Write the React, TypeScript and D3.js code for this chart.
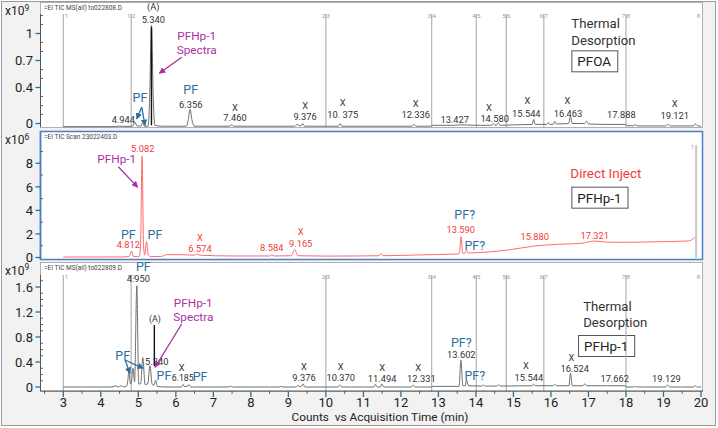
import React, { useEffect, useRef } from 'react';
import * as d3 from 'd3';

type Pt = [number, number];
type Lab = [string, string, number, number];

// retention time ticks (min)
const xTicks = [3, 4, 5, 6, 7, 8, 9, 10, 11, 12, 13, 14, 15, 16, 17, 18, 19, 20];
const xMinor = [2.5, 3.5, 4.5, 5.5, 6.5, 7.5, 8.5, 9.5, 10.5, 11.5, 12.5, 13.5, 14.5, 15.5, 16.5, 17.5, 18.5, 19.5];

const topTicks = [0, 0.4, 0.7, 1];
const topMinor = [0.1, 0.2, 0.3, 0.5, 0.6, 0.8, 0.9, 1.1, 1.2];
const midTicks = [0, 2, 4, 6, 8];
const midMinor = [1, 3, 5, 7, 9];
const botTicks = [0, 0.4, 0.8, 1.2, 1.6];
const botMinor = [0.1, 0.2, 0.3, 0.5, 0.6, 0.7, 0.9, 1.0, 1.1, 1.3, 1.4, 1.5, 1.7];

const segTimes = [3.0, 4.81, 10.0, 12.82, 14.01, 14.81, 15.81, 18.0, 19.93];
const segLabels = ['1', '1|2', '2|3', '3|4', '4|5', '5|6', '6|7', '7|8', '8'];
const midSegTimes = [19.87];
const midSegLabels = ['1'];

// TD of PFOA, x10^9
const pfoaTrace: Pt[] = [
  [3.0, -0.035], [4.3, -0.035], [4.5, -0.03], [4.7, -0.033], [4.85, -0.03], [4.91, 0.015], [4.96, -0.025],
  [5.06, -0.03], [5.11, 0.005], [5.16, -0.03], [5.26, -0.03], [5.3, 0.25], [5.35, 1.09], [5.4, 0.25],
  [5.44, -0.02], [5.6, -0.03], [6.28, -0.03], [6.33, 0.04], [6.38, 0.158], [6.43, 0.04], [6.49, -0.03],
  [7.42, -0.03], [7.48, -0.015], [7.54, -0.03], [9.17, -0.03], [9.23, -0.01], [9.29, -0.025], [9.34, -0.025],
  [9.38, 0.0], [9.43, -0.03], [10.33, -0.03], [10.38, 0.0], [10.43, -0.03], [12.29, -0.03], [12.35, -0.01],
  [12.41, -0.03], [12.8, -0.03], [12.85, -0.02], [13.4, -0.02], [13.6, -0.015], [14.0, -0.02], [14.41, -0.02],
  [14.46, 0.0], [14.51, -0.02], [14.55, -0.02], [14.6, 0.005], [14.65, -0.02], [15.0, -0.015], [15.5, -0.01],
  [15.54, 0.045], [15.58, -0.01], [15.89, -0.01], [15.93, 0.01], [15.97, -0.01], [16.06, -0.01], [16.1, 0.025],
  [16.14, -0.005], [16.47, 0.0], [16.52, 0.075], [16.57, 0.0], [16.9, 0.0], [16.95, 0.025], [17.0, -0.005],
  [17.5, -0.01], [17.98, -0.01], [18.03, -0.025], [18.2, -0.025], [18.25, -0.012], [18.3, -0.027],
  [19.06, -0.027], [19.13, -0.01], [19.19, -0.027], [19.79, -0.027], [19.85, -0.005], [19.92, -0.027], [20.0, -0.03],
];

// direct injection of PFHp-1, x10^6
const directTrace: Pt[] = [
  [3.0, 0.04], [4.6, 0.05], [4.75, 0.08], [4.82, 0.55], [4.87, 0.08], [5.02, 0.06], [5.06, 1.0], [5.1, 8.6],
  [5.14, 1.0], [5.17, 0.2], [5.22, 1.35], [5.26, 0.3], [5.32, 0.08], [5.6, 0.08], [5.75, 0.24], [6.1, 0.24],
  [6.5, 0.2], [6.56, 0.32], [6.62, 0.2], [7.5, 0.13], [8.5, 0.13], [8.56, 0.22], [8.62, 0.13], [9.08, 0.15],
  [9.17, 0.68], [9.25, 0.15], [10.0, 0.12], [10.86, 0.13], [11.42, 0.15], [11.47, 0.35], [11.52, 0.15],
  [12.5, 0.22], [13.5, 0.3], [13.56, 0.35], [13.6, 1.77], [13.65, 0.36], [13.71, 0.36], [13.75, 0.58],
  [13.8, 0.38], [14.0, 0.4], [14.86, 0.64], [15.57, 0.98], [16.19, 1.12], [16.8, 1.2], [17.17, 1.4],
  [17.5, 1.3], [17.97, 1.29], [18.86, 1.34], [19.66, 1.4], [19.84, 1.71],
];

// TD of PFHp-1, x10^9
const pfhpTrace: Pt[] = [
  [3.0, 0.0], [4.3, 0.0], [4.4, 0.02], [4.45, 0.0], [4.55, 0.02], [4.6, 0.0], [4.68, 0.01], [4.72, 0.1],
  [4.75, 0.27], [4.79, 0.05], [4.82, 0.1], [4.86, 0.3], [4.9, 0.08], [4.96, 1.62], [5.01, 0.05], [5.06, 0.05],
  [5.12, 0.47], [5.18, 0.04], [5.25, 0.05], [5.31, 0.34], [5.37, 0.04], [5.42, 0.03], [5.46, 0.11],
  [5.51, 0.01], [5.7, 0.0], [6.15, 0.0], [6.19, 0.04], [6.23, 0.01], [6.3, 0.01], [6.35, 0.04], [6.4, 0.0],
  [7.4, 0.0], [7.45, 0.015], [7.5, 0.0], [8.75, 0.0], [8.8, 0.01], [8.85, 0.0], [9.2, 0.0], [9.25, 0.025],
  [9.3, 0.01], [9.35, 0.01], [9.39, 0.05], [9.44, 0.0], [10.32, 0.0], [10.37, 0.03], [10.42, 0.0],
  [11.28, 0.0], [11.32, 0.045], [11.37, 0.0], [11.45, 0.0], [11.49, 0.05], [11.54, 0.0], [12.28, 0.0],
  [12.33, 0.03], [12.38, 0.0], [12.8, 0.0], [12.85, 0.01], [13.55, 0.01], [13.6, 0.43], [13.65, 0.02],
  [13.71, 0.02], [13.75, 0.11], [13.8, 0.02], [14.15, 0.015], [14.2, 0.03], [14.25, 0.015], [14.55, 0.015],
  [14.6, 0.035], [14.65, 0.015], [15.5, 0.02], [15.54, 0.045], [15.58, 0.02], [16.05, 0.02], [16.1, 0.045],
  [16.15, 0.02], [16.48, 0.02], [16.52, 0.22], [16.57, 0.02], [16.85, 0.02], [16.9, 0.05], [16.95, 0.02],
  [17.5, 0.02], [17.98, 0.02], [18.02, 0.0], [18.2, 0.0], [18.25, 0.01], [18.3, 0.0], [19.05, 0.0],
  [19.11, 0.03], [19.17, 0.0], [19.8, 0.0], [19.85, 0.02], [19.9, 0.0], [20.0, 0.0],
];

// annotations: kind, text, time, value
const pfoaLabels: Lab[] = [
  ['num', '(A)', 5.4, 1.294], ['num', '5.340', 5.4, 1.156],
  ['mag', 'PFHp-1', 6.556, 0.976], ['mag', 'Spectra', 6.556, 0.817],
  ['pf', 'PF', 5.045, 0.291], ['num', '4.944', 4.6, 0.047],
  ['pf', 'PF', 6.397, 0.38], ['num', '6.356', 6.397, 0.213],
  ['num', 'X', 7.578, 0.178], ['num', '7.460', 7.578, 0.069],
  ['num', 'X', 9.445, 0.2], ['num', '9.376', 9.445, 0.076],
  ['num', 'X', 10.449, 0.228], ['num', '10. 375', 10.449, 0.102],
  ['num', 'X', 12.395, 0.22], ['num', '12.336', 12.395, 0.094],
  ['num', '13.427', 13.435, 0.047],
  ['num', 'X', 14.349, 0.175], ['num', '14.580', 14.5, 0.05],
  ['num', 'X', 15.37, 0.253], ['num', '15.544', 15.343, 0.113],
  ['num', 'X', 16.436, 0.253], ['num', '16.463', 16.455, 0.113],
  ['num', '17.888', 17.876, 0.094],
  ['num', 'X', 19.3, 0.226], ['num', '19.121', 19.3, 0.087],
];
const directLabels: Lab[] = [
  ['red', '5.082', 5.117, 9.27], ['mag', 'PFHp-1', 4.424, 8.36],
  ['pf', 'PF', 4.733, 1.99], ['red', '4.812', 4.733, 1.12], ['pf', 'PF', 5.445, 1.97],
  ['red', 'X', 6.645, 1.71], ['red', '6.574', 6.645, 0.78], ['red', '8.584', 8.556, 0.87],
  ['red', 'X', 9.328, 2.19], ['red', '9.165', 9.328, 1.21],
  ['pf', 'PF?', 13.701, 3.61], ['red', '13.590', 13.595, 2.39], ['pf', 'PF?', 13.968, 1.06],
  ['red', '15.880', 15.567, 1.77], ['red', '17.321', 17.167, 1.83],
];
const pfhpLabels: Lab[] = [
  ['pf', 'PF', 5.133, 1.925], ['num', '4.950', 5.0, 1.728],
  ['mag', 'PFHp-1', 6.466, 1.355], ['mag', 'Spectra', 6.466, 1.125],
  ['small', '(A)', 5.445, 1.088], ['pf', 'PF', 4.584, 0.512], ['num', '5.340', 5.49, 0.405],
  ['pf', 'PF', 5.685, 0.181], ['small', '6.185', 6.183, 0.139], ['pf', 'PF', 6.645, 0.165],
  ['num', 'X', 6.157, 0.315],
  ['num', 'X', 9.417, 0.325], ['num', '9.376', 9.417, 0.155],
  ['num', 'X', 10.395, 0.325], ['num', '10.370', 10.395, 0.155],
  ['num', 'X', 11.498, 0.315], ['num', '11.494', 11.498, 0.139],
  ['num', 'X', 12.458, 0.315], ['num', '12.331', 12.545, 0.139],
  ['pf', 'PF?', 13.61, 0.715], ['num', '13.602', 13.61, 0.523], ['pf', 'PF?', 13.968, 0.192],
  ['num', 'X', 15.33, 0.341], ['num', '15.544', 15.41, 0.155],
  ['num', 'X', 16.543, 0.475], ['num', '16.524', 16.633, 0.299],
  ['num', '17.662', 17.7, 0.139], ['num', '19.129', 19.076, 0.139],
];

// side titles (left anchored): kind, text, time, value
const pfoaTitles: Lab[] = [['title', 'Thermal', 16.544, 1.113], ['title', 'Desorption', 16.544, 0.928], ['box', 'PFOA', 16.544, 0.691]];
const directTitles: Lab[] = [['inject', 'Direct Inject', 16.517, 7.15], ['box', 'PFHp-1', 16.544, 5.08]];
const pfhpTitles: Lab[] = [['title', 'Thermal', 16.86, 1.296], ['title', 'Desorption', 16.86, 1.029], ['box', 'PFHp-1', 16.723, 0.656]];

// arrows: kind, t1, v1, t2, v2
const pfoaArrows: [string, number, number, number, number][] = [
  ['mag', 6.157, 0.736, 5.56, 0.558], ['pf', 5.09, 0.183, 4.957, 0.05], ['pf', 5.09, 0.183, 5.178, -0.022],
];
const directArrows: [string, number, number, number, number][] = [['mag', 4.467, 7.71, 4.984, 5.96]];
const pfhpArrows: [string, number, number, number, number][] = [
  ['mag', 6.157, 1.008, 5.445, 0.315], ['pf', 4.645, 0.432, 4.779, 0.219], ['pf', 4.645, 0.432, 5.133, 0.299],
];

// (A) marker: time, from, to
const pfoaMark: [number, number, number][] = [[5.35, -0.02, 1.07]];
const pfhpMark: [number, number, number][] = [[5.427, 0.336, 0.992]];

const FONT = 'Roboto, "Liberation Sans", sans-serif';
const BLUE = '#2b6f9e';
const MAG = '#a8329f';
const RED = '#f23a3a';

const labelStyle: Record<string, { size: number; fill: string }> = {
  num: { size: 9.3, fill: '#333' },
  small: { size: 8.8, fill: '#333' },
  pf: { size: 12.5, fill: BLUE },
  mag: { size: 11.8, fill: MAG },
  red: { size: 9.3, fill: RED },
  title: { size: 13.2, fill: '#333' },
  inject: { size: 13.4, fill: RED },
  box: { size: 13.4, fill: '#222' },
};

const App = () => {
  const svgRef = useRef<SVGSVGElement>(null);

  useEffect(() => {
    const svg = d3.select(svgRef.current);
    svg.selectAll('*').remove();

    const x = d3.scaleLinear().domain([3, 20]).range([63.3, 701]);

    const defs = svg.append('defs');
    [['pf', BLUE], ['mag', MAG]].forEach(([k, c]) => {
      defs.append('marker')
        .attr('id', 'arr-' + k)
        .attr('viewBox', '0 0 10 10')
        .attr('refX', 9).attr('refY', 5)
        .attr('markerWidth', 5).attr('markerHeight', 5)
        .attr('orient', 'auto')
        .append('path').attr('d', 'M0,0 L10,5 L0,10 z').attr('fill', c);
    });

    svg.append('rect')
      .attr('x', 1.5).attr('y', 1.5).attr('width', 714).attr('height', 424)
      .attr('fill', '#f2f2f2').attr('stroke', '#9a9a9a');

    const panels = [
      { y0: 2, y1: 127, axisTop: 14, y: d3.scaleLinear().domain([0, 1]).range([123.5, 33.5]),
        ticks: topTicks, minor: topMinor, exp: '9', header: '=EI TIC MS(all) to022808.D',
        trace: pfoaTrace, color: '#6e6e6e', labels: pfoaLabels, titles: pfoaTitles, arrows: pfoaArrows,
        marks: pfoaMark, seg: segTimes, segLab: segLabels, frame: '#b0b0b0', segTop: 14, exY: 15 },
      { y0: 131, y1: 259, axisTop: 131, y: d3.scaleLinear().domain([0, 8]).range([257.5, 163.3]),
        ticks: midTicks, minor: midMinor, exp: '6', header: '=EI TIC Scan 23022403.D',
        trace: directTrace, color: '#ff6b6b', labels: directLabels, titles: directTitles, arrows: directArrows,
        marks: [], seg: midSegTimes, segLab: midSegLabels, frame: '#4a80c8', segTop: 145, exY: 144 },
      { y0: 262, y1: 391, axisTop: 275, y: d3.scaleLinear().domain([0, 1.6]).range([387, 287]),
        ticks: botTicks, minor: botMinor, exp: '9', header: '=EI TIC MS(all) to022809.D',
        trace: pfhpTrace, color: '#6e6e6e', labels: pfhpLabels, titles: pfhpTitles, arrows: pfhpArrows,
        marks: pfhpMark, seg: segTimes, segLab: segLabels, frame: '#b0b0b0', segTop: 275, exY: 274.5 },
    ];

    panels.forEach((p, pi) => {
      const g = svg.append('g');
      g.append('rect')
        .attr('x', 40.5).attr('y', p.y0 + 0.5)
        .attr('width', 662).attr('height', p.y1 - p.y0)
        .attr('fill', '#fff')
        .attr('stroke', p.frame).attr('stroke-width', pi === 1 ? 1.5 : 1);

      g.append('text')
        .attr('x', 44).attr('y', p.y0 + 7.5)
        .attr('font-family', FONT).attr('font-size', 6.5).attr('fill', '#444')
        .text(p.header);

      // segment markers
      p.seg.forEach((t, i) => {
        const last = pi !== 1 && i === p.seg.length - 1;
        if (!last) {
          g.append('line')
            .attr('x1', x(t)).attr('x2', x(t))
            .attr('y1', p.segTop).attr('y2', p.y1 - (pi === 1 ? 1 : 0))
            .attr('stroke', pi === 1 ? '#c8c8c8' : '#b4b4b4')
            .attr('stroke-width', pi === 1 ? 2 : 1.2);
        }
        const lab = p.segLab[i];
        const anchor = lab.includes('|') ? 'middle' : pi === 1 ? 'end' : i === 0 ? 'start' : 'middle';
        const dx = anchor === 'end' ? -2 : anchor === 'start' ? 1.5 : 0;
        g.append('text').attr('x', x(t) + dx).attr('y', p.segTop + 4)
          .attr('text-anchor', anchor).attr('font-family', FONT).attr('font-size', 6)
          .attr('fill', '#999').text(lab);
      });

      // trace
      const line = d3.line<Pt>().x(d => x(d[0])).y(d => p.y(d[1])).curve(d3.curveMonotoneX);
      g.append('path')
        .datum(p.trace)
        .attr('fill', 'none').attr('stroke', p.color).attr('stroke-width', 1)
        .attr('d', line);

      p.marks.forEach(([t, a, b]) => {
        g.append('line')
          .attr('x1', x(t)).attr('x2', x(t)).attr('y1', p.y(a)).attr('y2', p.y(b))
          .attr('stroke', '#111').attr('stroke-width', 1.4);
      });

      // y axis
      g.append('line')
        .attr('x1', 40.5).attr('x2', 40.5).attr('y1', p.axisTop).attr('y2', p.y1)
        .attr('stroke', pi === 1 ? p.frame : '#555').attr('stroke-width', pi === 1 ? 1.5 : 1);
      p.minor.forEach(v => {
        g.append('line').attr('x1', 40.5).attr('x2', 43).attr('y1', p.y(v)).attr('y2', p.y(v))
          .attr('stroke', '#444').attr('stroke-width', 0.8);
      });
      p.ticks.forEach(v => {
        g.append('line').attr('x1', 35.5).attr('x2', 40.5).attr('y1', p.y(v)).attr('y2', p.y(v))
          .attr('stroke', BLUE).attr('stroke-width', 1.3);
        g.append('text')
          .attr('x', 33).attr('y', p.y(v)).attr('dy', '0.36em')
          .attr('text-anchor', 'end').attr('font-family', FONT).attr('font-size', 13).attr('fill', '#222')
          .text(String(v));
      });
      const ex = g.append('text')
        .attr('x', 5).attr('y', p.exY)
        .attr('font-family', FONT).attr('font-size', 12).attr('fill', '#222');
      ex.append('tspan').text('x10');
      ex.append('tspan').attr('dy', -4.5).attr('font-size', 8.5).text(p.exp);

      // labels
      p.labels.forEach(([k, txt, t, v]) => {
        const st = labelStyle[k];
        g.append('text')
          .attr('x', x(t)).attr('y', p.y(v)).attr('dy', '0.36em')
          .attr('text-anchor', 'middle')
          .attr('font-family', FONT).attr('font-size', st.size).attr('fill', st.fill)
          .text(txt);
      });

      p.titles.forEach(([k, txt, t, v]) => {
        const st = labelStyle[k];
        const tx = g.append('text')
          .attr('x', x(t) + (k === 'box' ? 6 : 0)).attr('y', p.y(v)).attr('dy', '0.36em')
          .attr('font-family', FONT).attr('font-size', st.size).attr('fill', st.fill)
          .text(txt);
        if (k === 'box') {
          const bb = (tx.node() as SVGTextElement).getBBox();
          g.insert('rect', 'text')
            .attr('x', x(t) + 0.5).attr('y', p.y(v) - 10.5)
            .attr('width', bb.width + 12).attr('height', 21)
            .attr('fill', '#fff').attr('stroke', '#555').attr('stroke-width', 1);
        }
      });

      p.arrows.forEach(([k, t1, v1, t2, v2]) => {
        g.append('line')
          .attr('x1', x(t1)).attr('y1', p.y(v1)).attr('x2', x(t2)).attr('y2', p.y(v2))
          .attr('stroke', k === 'pf' ? BLUE : MAG).attr('stroke-width', 1.3)
          .attr('marker-end', `url(#arr-${k})`);
      });
    });

    // x axis
    const ax = svg.append('g');
    ax.append('line').attr('x1', 40.5).attr('x2', 703).attr('y1', 391).attr('y2', 391)
      .attr('stroke', '#555').attr('stroke-width', 1);
    xMinor.forEach(t => {
      ax.append('line').attr('x1', x(t)).attr('x2', x(t)).attr('y1', 391).attr('y2', 394)
        .attr('stroke', '#444').attr('stroke-width', 0.8);
    });
    xTicks.forEach(t => {
      ax.append('line').attr('x1', x(t)).attr('x2', x(t)).attr('y1', 391).attr('y2', 397)
        .attr('stroke', BLUE).attr('stroke-width', 1.3);
      ax.append('text')
        .attr('x', x(t)).attr('y', 402).attr('dy', '0.36em')
        .attr('text-anchor', 'middle').attr('font-family', FONT).attr('font-size', 13).attr('fill', '#222')
        .text(String(t));
    });
    ax.append('text')
      .attr('x', 380).attr('y', 417).attr('dy', '0.36em')
      .attr('text-anchor', 'middle').attr('font-family', FONT).attr('font-size', 11.8).attr('fill', '#222')
      .attr('xml:space', 'preserve')
      .text('Counts  vs Acquisition Time (min)');
  }, []);

  return (
    <svg
      ref={svgRef}
      width={718}
      height={428}
      style={{ position: 'absolute', left: 0, top: 0, display: 'block' }}
    />
  );
};

export default App;
